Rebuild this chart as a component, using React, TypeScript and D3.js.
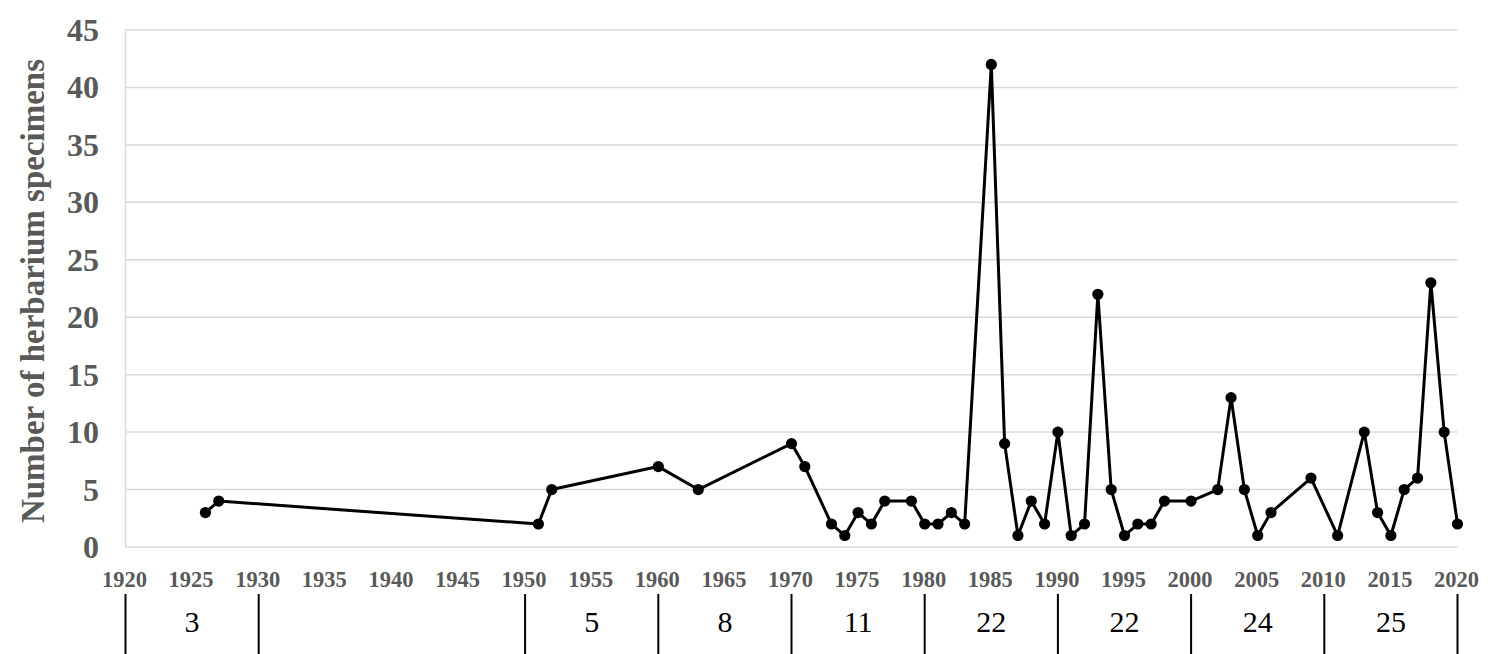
import React, { useEffect, useRef } from 'react';
import * as d3 from 'd3';

// specimens per collection year
const years = [1926, 1927, 1951, 1952, 1960, 1963, 1970, 1971, 1973, 1974, 1975, 1976, 1977, 1979, 1980, 1981, 1982, 1983,
  1985, 1986, 1987, 1988, 1989, 1990, 1991, 1992, 1993, 1994, 1995, 1996, 1997, 1998, 2000, 2002, 2003, 2004, 2005, 2006,
  2009, 2011, 2013, 2014, 2015, 2016, 2017, 2018, 2019, 2020];
const counts = [3, 4, 2, 5, 7, 5, 9, 7, 2, 1, 3, 2, 4, 4, 2, 2, 3, 2,
  42, 9, 1, 4, 2, 10, 1, 2, 22, 5, 1, 2, 2, 4, 4, 5, 13, 5, 1, 3,
  6, 1, 10, 3, 1, 5, 6, 23, 10, 2];

const yTicks = [0, 5, 10, 15, 20, 25, 30, 35, 40, 45];
const xTicks = d3.range(1920, 2021, 5);

// bottom band: boundaries and the numbers in between
const bandEdges = [1920, 1930, 1950, 1960, 1970, 1980, 1990, 2000, 2010, 2020];
const bandLabels = ['3', '', '5', '8', '11', '22', '22', '24', '25'];

export default function App() {
  const ref = useRef<SVGSVGElement>(null);

  useEffect(() => {
    const svg = d3.select(ref.current);
    svg.selectAll('*').remove();

    const x = d3.scaleLinear().domain([1920, 2020]).range([125.5, 1457.5]);
    const y = d3.scaleLinear().domain([0, 45]).range([547, 30]);
    const serif = '"Liberation Serif", "Times New Roman", serif';

    // gridlines
    svg.append('g').selectAll('line').data(yTicks).enter().append('line')
      .attr('x1', x(1920)).attr('x2', x(2020))
      .attr('y1', d => y(d)).attr('y2', d => y(d))
      .attr('stroke', '#d9d9d9').attr('stroke-width', 1.5);

    svg.append('line')
      .attr('x1', x(1920)).attr('x2', x(1920))
      .attr('y1', y(45)).attr('y2', y(0))
      .attr('stroke', '#d9d9d9').attr('stroke-width', 1.5);

    // y tick labels
    svg.append('g').selectAll('text').data(yTicks).enter().append('text')
      .attr('x', 99).attr('y', d => y(d) + 11)
      .attr('text-anchor', 'end')
      .style('font-family', serif)
      .style('font-weight', 'bold').style('font-size', '32px')
      .attr('fill', '#595959')
      .text(d => d);

    svg.append('text')
      .attr('transform', `translate(44, 291) rotate(-90)`)
      .attr('text-anchor', 'middle')
      .style('font-family', serif)
      .style('font-weight', 'bold').style('font-size', '33px')
      .attr('fill', '#595959')
      .text('Number of herbarium specimens');

    // x tick labels
    svg.append('g').selectAll('text').data(xTicks).enter().append('text')
      .attr('x', d => x(d) - 1).attr('y', 587)
      .attr('text-anchor', 'middle')
      .style('font-family', serif)
      .style('font-weight', 'bold').style('font-size', '22.5px')
      .attr('fill', '#595959')
      .text(d => d);

    // line + markers
    const pts = years.map((yr, i) => [yr, counts[i]] as [number, number]);
    const line = d3.line<[number, number]>().x(d => x(d[0])).y(d => y(d[1]));
    svg.append('path').datum(pts)
      .attr('d', line)
      .attr('fill', 'none').attr('stroke', '#000').attr('stroke-width', 3)
      .attr('stroke-linejoin', 'round');

    svg.append('g').selectAll('circle').data(pts).enter().append('circle')
      .attr('cx', d => x(d[0])).attr('cy', d => y(d[1]))
      .attr('r', 5.6).attr('fill', '#000');

    // bottom band
    svg.append('g').selectAll('line').data(bandEdges).enter().append('line')
      .attr('x1', d => x(d)).attr('x2', d => x(d))
      .attr('y1', 594).attr('y2', 654)
      .attr('stroke', '#000').attr('stroke-width', 2);

    svg.append('g').selectAll('text').data(bandLabels).enter().append('text')
      .attr('x', (d, i) => (x(bandEdges[i]) + x(bandEdges[i + 1])) / 2)
      .attr('y', 632)
      .attr('text-anchor', 'middle')
      .style('font-family', serif)
      .style('font-size', '30px')
      .attr('fill', '#000')
      .text(d => d);
  }, []);

  return (
    <svg ref={ref} width={1500} height={654}
      style={{ position: 'absolute', left: 0, top: 0, background: '#fff' }} />
  );
}
